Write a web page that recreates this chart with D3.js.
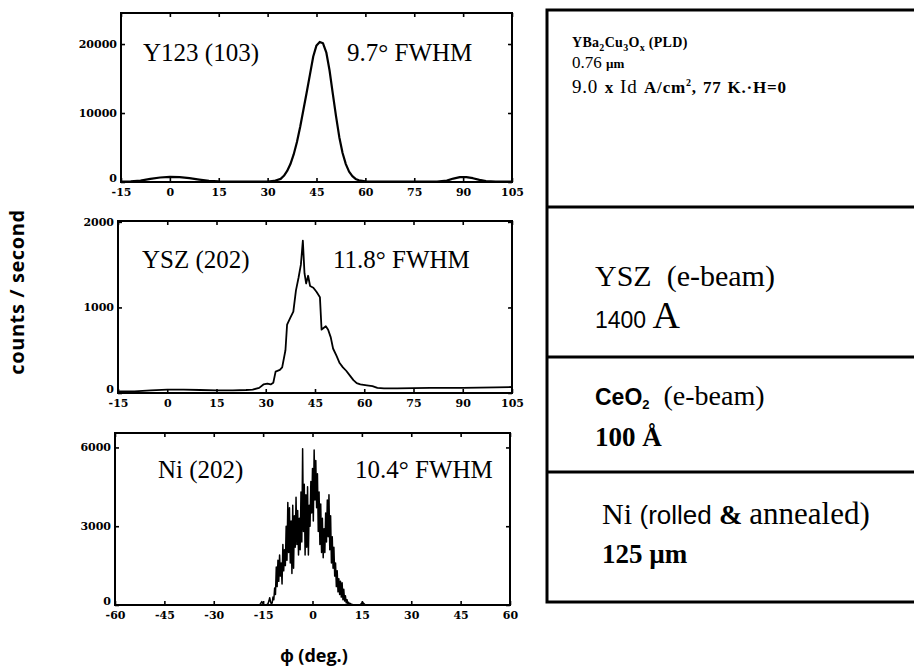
<!DOCTYPE html>
<html>
<head>
<meta charset="utf-8">
<script src="https://cdn.jsdelivr.net/npm/d3@7"></script>
<style>
  body { margin: 0; background: #fff; }
  svg { display: block; }
</style>
</head>
<body>
<div id="chart"></div>
<script>
// ---- data ----
// Y123 (103) phi scan
const y123Phi = [-15, -12, -9, -6, -3, 0, 3, 6, 9, 12, 15, 20, 25, 30, 32, 34, 35, 36, 37, 38, 39, 40,
  41, 42, 43, 44, 45, 46, 47, 48, 49, 50, 51, 52, 53, 54, 55, 56, 57, 58, 60, 65, 75, 82, 85, 87, 89,
  91, 93, 95, 97, 100, 105];
const y123Counts = [60, 80, 200, 450, 650, 750, 700, 550, 350, 180, 80, 40, 40, 60, 150, 450, 900, 1600,
  2600, 4000, 5800, 8000, 10500, 13000, 15600, 18200, 19800, 20300, 20100, 18800, 16200, 12800, 9500,
  6500, 4200, 2600, 1500, 850, 450, 250, 90, 40, 40, 60, 200, 500, 700, 700, 550, 300, 120, 50, 40];

// YSZ (202) phi scan
const yszPhi = [-15, -10, -5, 0, 5, 10, 15, 20, 24, 26, 28, 29.3, 30.5, 31.5, 32.3, 33, 34.3, 35, 36,
  36.5, 37.5, 38.4, 39.2, 40, 40.7, 41.3, 41.8, 42.3, 42.9, 43.5, 44.5, 45.5, 46.5, 47, 47.6, 48.3, 49,
  49.8, 50.5, 51.6, 52.5, 53.5, 54.5, 55.7, 56.7, 57.7, 58.8, 60.8, 62.5, 64, 66, 70, 80, 90, 100, 105];
const yszCounts = [20, 20, 30, 40, 40, 35, 30, 30, 35, 40, 60, 100, 110, 100, 120, 250, 270, 300, 500,
  800, 880, 950, 1200, 1350, 1500, 1780, 1400, 1280, 1370, 1250, 1230, 1180, 1120, 740, 760, 780, 740,
  650, 520, 430, 350, 300, 260, 200, 150, 115, 100, 90, 80, 60, 55, 55, 60, 60, 65, 70];

// Ni (202) phi scan: flat wings plus the 0.25 deg scan across the peak
const niWingLeftPhi = [-60, -40, -20, -16, -15.4, -14.8];
const niWingLeftCounts = [10, 10, 10, 10, 130, 10];
const niScanStart = -14;
const niScanStep = 0.25;
const niScanCounts = [
  0, 20, 60, 150, 280, 120, 40, 80, 300, 200, 650, 400, 1450, 700, 1700, 900,
  1900, 1100, 1600, 800, 2300, 1300, 2100, 1500, 3000, 1700, 3900, 2000, 3700, 1600, 3200, 1200,
  3800, 1400, 3400, 2200, 4100, 2300, 3600, 1900, 3300, 2100, 4300, 2400, 5950, 2800, 4600, 1900,
  4200, 2200, 4500, 1900, 3800, 3000, 4700, 3500,
  5200, 3200, 5900, 4000, 5500, 3700, 5000, 2800, 4300, 2300, 3850, 2000, 3300, 1800, 2900, 2000,
  3500, 2400, 4000, 2600, 4200, 2100, 3400, 1600, 2600, 1400, 2200, 1100, 1600, 700, 1300, 500,
  1000, 400, 900, 300, 850, 200, 600, 150, 350, 80, 200, 40, 100, 20, 60, 10, 30, 0, 0, 0, 0];
const niWingRightPhi = [14.5, 15.2, 16, 30, 60];
const niWingRightCounts = [10, 100, 10, 10, 10];

// tick labels
const xTicksWide = [-15, 0, 15, 30, 45, 60, 75, 90, 105];
const xTicksNi = [-60, -45, -30, -15, 0, 15, 30, 45, 60];
const yTicksY123 = [0, 10000, 20000];
const yTicksYsz = [0, 1000, 2000];
const yTicksNi = [0, 3000, 6000];

// panel texts
const panelNames = ['Y123 (103)', 'YSZ (202)', 'Ni (202)'];
const panelFwhm = ['9.7\u00b0 FWHM', '11.8\u00b0 FWHM', '10.4\u00b0 FWHM'];

// ---- drawing ----
const SERIF = '"Liberation Serif", "Times New Roman", serif';
const SANS = '"Liberation Sans", Arial, sans-serif';
const TICKFONT = 'bold 11px "DejaVu Serif", serif';

const svg = d3.select('#chart').append('svg')
  .attr('width', 914)
  .attr('height', 669);

const niPhi = niWingLeftPhi
  .concat(niScanCounts.map((c, i) => niScanStart + i * niScanStep))
  .concat(niWingRightPhi);
const niCounts = niWingLeftCounts.concat(niScanCounts).concat(niWingRightCounts);

const panels = [
  { box: { left: 121, right: 512, top: 13, bottom: 182 }, xDomain: [-15, 105], yDomain: [0, 24500],
    xTicks: xTicksWide, yTicks: yTicksY123, phi: y123Phi, counts: y123Counts, lw: 2.2,
    name: panelNames[0], fwhm: panelFwhm[0], nameX: 143, fwhmX: 347, textY: 61 },
  { box: { left: 118, right: 512, top: 221, bottom: 393 }, xDomain: [-15, 105], yDomain: [0, 2010],
    xTicks: xTicksWide, yTicks: yTicksYsz, phi: yszPhi, counts: yszCounts, lw: 1.8,
    name: panelNames[1], fwhm: panelFwhm[1], nameX: 142, fwhmX: 333, textY: 268 },
  { box: { left: 115, right: 510, top: 433, bottom: 605 }, xDomain: [-60, 60], yDomain: [0, 6550],
    xTicks: xTicksNi, yTicks: yTicksNi, phi: niPhi, counts: niCounts, lw: 1.5,
    name: panelNames[2], fwhm: panelFwhm[2], nameX: 158, fwhmX: 355, textY: 478 },
];

function drawPanel(p) {
  const b = p.box;
  const x = d3.scaleLinear().domain(p.xDomain).range([b.left, b.right]);
  const y = d3.scaleLinear().domain(p.yDomain).range([b.bottom, b.top]);
  const g = svg.append('g');

  const fmt = (d) => String(d);
  const axes = [
    [d3.axisBottom(x).tickValues(p.xTicks).tickFormat(fmt).tickPadding(6), `translate(0,${b.bottom})`],
    [d3.axisLeft(y).tickValues(p.yTicks).tickFormat(fmt).tickPadding(4), `translate(${b.left},0)`],
    [d3.axisTop(x).tickValues(p.xTicks).tickFormat(''), `translate(0,${b.top})`],
    [d3.axisRight(y).tickValues(p.yTicks).tickFormat(''), `translate(${b.right},0)`],
  ];
  axes.forEach(([axis, tr], i) => {
    const a = g.append('g').attr('transform', tr).call(axis.tickSize(-4));
    a.select('.domain').remove();
    a.selectAll('line').attr('stroke', '#000').attr('stroke-width', 1.6);
    a.selectAll('text')
      .style('font', TICKFONT)
      .attr('fill', '#000');
    // the zero label sits a little above the corner, clear of the x labels
    if (i === 1) a.selectAll('text').filter((d) => d === 0).attr('dy', '-0.05em');
  });

  g.append('path')
    .datum(d3.zip(p.phi, p.counts))
    .attr('d', d3.line().x((d) => x(d[0])).y((d) => y(d[1])))
    .attr('fill', 'none')
    .attr('stroke', '#000')
    .attr('stroke-width', p.lw)
    .attr('stroke-linejoin', 'round');

  g.append('rect')
    .attr('x', b.left)
    .attr('y', b.top)
    .attr('width', b.right - b.left)
    .attr('height', b.bottom - b.top)
    .attr('fill', 'none')
    .attr('stroke', '#000')
    .attr('stroke-width', 2);

  g.append('text')
    .attr('x', p.nameX)
    .attr('y', p.textY)
    .style('font', `25px ${SERIF}`)
    .text(p.name);
  g.append('text')
    .attr('x', p.fwhmX)
    .attr('y', p.textY)
    .style('font', `25px ${SERIF}`)
    .text(p.fwhm);
}

panels.forEach(drawPanel);

// axis titles
svg.append('text')
  .attr('transform', 'translate(24,292) rotate(-90)')
  .attr('text-anchor', 'middle')
  .style('font', 'bold 20px "Open Sans", sans-serif')
  .style('letter-spacing', '0.6px')
  .text('counts / second');

svg.append('text')
  .attr('x', 314)
  .attr('y', 662)
  .attr('text-anchor', 'middle')
  .style('font', 'bold 18px "Open Sans", sans-serif')
  .text('\u03d5 (deg.)');

// ---- layer stack on the right ----
const stack = { left: 547, right: 930, lines: [10, 207, 357, 472, 602] };

svg.append('rect')
  .attr('x', stack.left)
  .attr('y', stack.lines[0])
  .attr('width', stack.right - stack.left)
  .attr('height', stack.lines[4] - stack.lines[0])
  .attr('fill', 'none')
  .attr('stroke', '#000')
  .attr('stroke-width', 3);

svg.selectAll('line.layer')
  .data(stack.lines.slice(1, 4))
  .enter()
  .append('line')
  .attr('class', 'layer')
  .attr('x1', stack.left)
  .attr('x2', stack.right)
  .attr('y1', (d) => d)
  .attr('y2', (d) => d)
  .attr('stroke', '#000')
  .attr('stroke-width', 3);

// one text line built from pieces in different fonts, with sub/superscripts
function richText(x, y, segs, spacing) {
  const t = svg.append('text').attr('x', x).attr('y', y).style('white-space', 'pre');
  if (spacing) t.style('letter-spacing', spacing[0]).style('word-spacing', spacing[1]);
  let shift = 0;
  segs.forEach((s) => {
    const want = s.sub ? 4 : (s.sup ? -7 : 0);
    t.append('tspan')
      .attr('dy', want - shift)
      .style('font', s.font)
      .text(s.text);
    shift = want;
  });
}

const b14 = `bold 14px ${SERIF}`;
const b10 = `bold 10px ${SERIF}`;
const b13 = `bold 13px ${SERIF}`;
const b17 = `bold 17px ${SERIF}`;
const r17 = `17px ${SERIF}`;
const r19 = `19px ${SERIF}`;

richText(572, 47, [
  { text: 'YBa', font: b14 }, { text: '2', font: b10, sub: true },
  { text: 'Cu', font: b14 }, { text: '3', font: b10, sub: true },
  { text: 'O', font: b14 }, { text: 'x', font: b10, sub: true },
  { text: ' (PLD)', font: b14 },
], ['0.3px', '0px']);
richText(572, 68, [
  { text: '0.76 ', font: r17 }, { text: '\u00b5m', font: b13 },
]);
richText(572, 93, [
  { text: '9.0 ', font: r19 }, { text: 'x ', font: b17 }, { text: 'Id ', font: r19 },
  { text: 'A/cm', font: b17 }, { text: '2', font: b10, sup: true },
  { text: ', 77 K.\u00b7H=0', font: b17 },
], ['0.8px', '1px']);

richText(595, 286, [
  { text: 'YSZ  (e-beam)', font: `30px ${SERIF}` },
]);
richText(595, 328, [
  { text: '1400 ', font: `23px ${SANS}` }, { text: 'A', font: `38px ${SERIF}` },
]);

richText(595, 405, [
  { text: 'CeO', font: `bold 23px ${SANS}` }, { text: '2', font: `bold 13px ${SANS}`, sub: true },
  { text: '  (e-beam)', font: `28px ${SERIF}` },
]);
richText(595, 446, [
  { text: '100 \u00c5', font: `bold 27px ${SERIF}` },
]);

richText(602, 524, [
  { text: 'Ni ', font: `30px ${SERIF}` }, { text: '(rolled ', font: `26px ${SANS}` },
  { text: '& ', font: `bold 28px ${SERIF}` }, { text: 'annealed)', font: `31px ${SERIF}` },
]);
richText(602, 563, [
  { text: '125 \u00b5m', font: `bold 27px ${SERIF}` },
]);
</script>
</body>
</html>
